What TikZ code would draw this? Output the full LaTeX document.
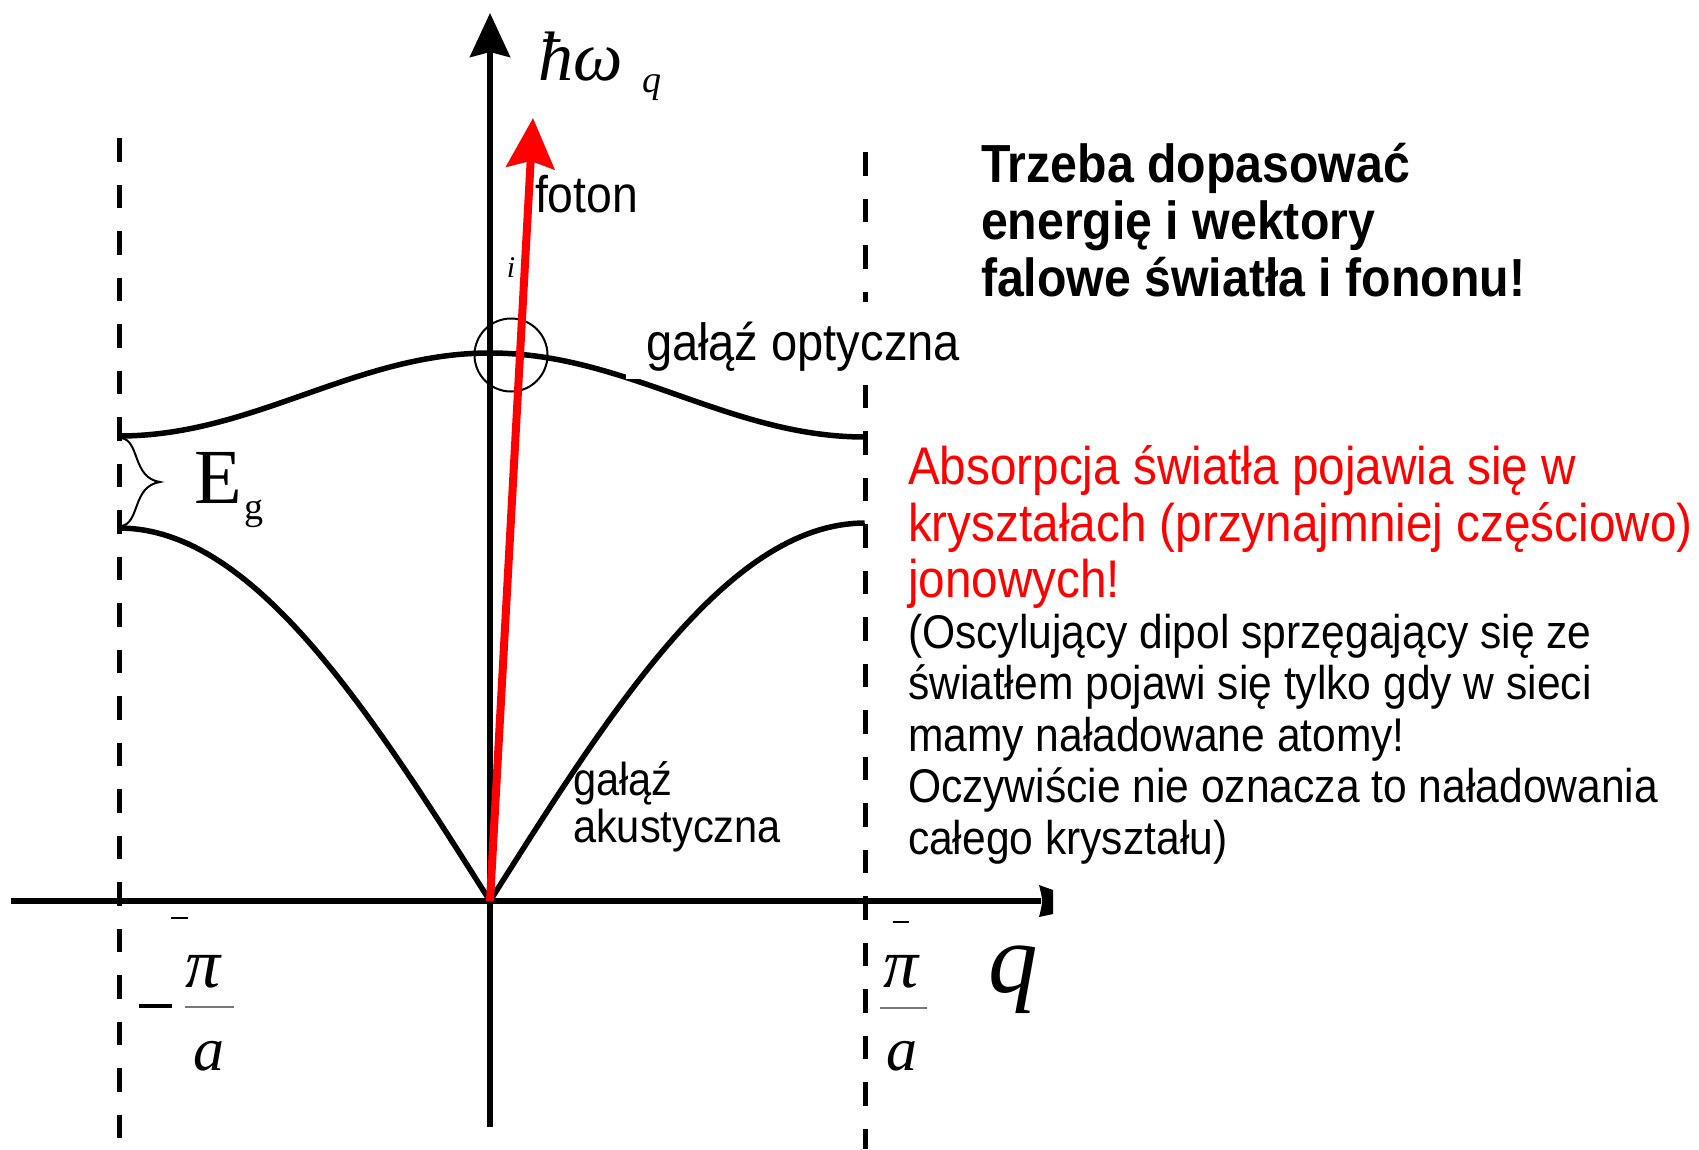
\documentclass[tikz,border=0pt]{standalone}
\usepackage{fontspec}
\setmainfont{Liberation Serif}
\newfontfamily\sansf[FakeStretch=0.9]{Liberation Sans}
\usetikzlibrary{arrows.meta}
\definecolor{pptred}{RGB}{255,0,0}
\definecolor{bargray}{RGB}{120,120,120}
\newcommand\setfs[1]{\fontsize{#1}{#1}\selectfont}
\begin{document}
\begin{tikzpicture}[x=1pt,y=-1pt,
  txt/.style={inner sep=0pt, outer sep=0pt, anchor=base west},
  ctxt/.style={inner sep=0pt, outer sep=0pt, anchor=base},
  curve/.style={line width=5.5pt, line join=round},
  axisline/.style={line width=6pt},
  zone/.style={line width=5pt, dash pattern=on 23.5pt off 23pt},
  thinline/.style={line width=2pt},
]
\useasboundingbox (0,0) rectangle (1699,1149);

% named points
\coordinate (O) at (490,901);
\coordinate (Ytop) at (490,13);
\coordinate (Ybot) at (490,1127);
\coordinate (Xl) at (11,901);
\coordinate (Xr) at (1041,901);
\coordinate (Ftip) at (533,118);
\coordinate (Lz1) at (119,138);
\coordinate (Lz2) at (119,1149);
\coordinate (Rz1) at (865,152);
\coordinate (Rz2) at (865,1149);

% zone boundaries
\draw[zone] (Lz1) -- (Lz2);
\draw[zone] (Rz1) -- (Rz2);

% axes
\draw[axisline, -{Stealth[length=44pt,width=40pt,inset=5pt]}] (Ybot) -- (Ytop);
\draw[axisline] (Xl) -- (Xr);
\fill (1039,885) -- (1053,890) -- (1053,914) -- (1039,917) .. controls (1043,901) .. cycle;

% optical branch
\draw[curve] plot[domain=1:0, samples=60] ({490-371*\x},{353+83*(1-cos(180*\x))/2})
   -- plot[domain=0:1, samples=60] ({490+375*\x},{353+84*(1-cos(180*\x))/2});
% acoustic branch
\draw[curve] plot[domain=1:0, samples=60] ({490-371*\x},{901-373*sin(90*\x)})
   -- plot[domain=0:1, samples=60] ({490+375*\x},{901-378*sin(90*\x)});

% white box behind the optical-branch label
\fill[white] (626,302) rectangle (975,379);

% circle
\draw[thinline] (511,355) circle[radius=36.5];

% brace
\draw[line width=2pt] (121,438) .. controls (140,440) and (132,478) .. (160,482)
   .. controls (132,486) and (140,524) .. (121,526);

% photon arrow
\draw[pptred, line width=8pt, -{Stealth[length=50pt,width=48pt,inset=7pt]}] (O) -- (Ftip);

% axis labels
\node[txt] (hw) at (538,80) {\setfs{70}\itshape ħω};
\node[txt] (hwq) at (642,92) {\setfs{38}\itshape q};
\node[txt] (qlab) at (988,992) {\setfs{99}\itshape q};
\node[ctxt] (ip) at (511,277) {\setfs{30}\itshape i};

% -pi/a
\draw[line width=4pt] (139,1006) -- (172,1006);
\draw[line width=2pt] (171,918) -- (188,918);
\draw[bargray, line width=2pt] (185,1007) -- (234,1007);
\node[ctxt] (piL) at (203,987) {\setfs{70}\itshape π};
\node[ctxt] (aL) at (209,1070) {\setfs{62}\itshape a};
% pi/a
\draw[line width=2pt] (893,922) -- (909,922);
\draw[bargray, line width=2pt] (880,1008) -- (927,1008);
\node[ctxt] (piR) at (901,987) {\setfs{70}\itshape π};
\node[ctxt] (aR) at (902,1070) {\setfs{62}\itshape a};

% E_g
\node[txt] (E) at (194,503) {\setfs{78}E};
\node[txt] (g) at (244,519) {\setfs{38}g};

% sans labels
\node[txt] (foton) at (535,212) {\sansf\setfs{51.5}foton};
\node[txt] (opt) at (646,360) {\sansf\setfs{52.3}gałąź optyczna};
\node[txt] (ak1) at (573,795) {\sansf\setfs{46.2}gałąź};
\node[txt] (ak2) at (573,842) {\sansf\setfs{46.2}akustyczna};

\node[txt] (b1) at (981,182) {\sansf\bfseries\setfs{53.6}Trzeba dopasować};
\node[txt] (b2) at (981,239) {\sansf\bfseries\setfs{53.6}energię i wektory};
\node[txt] (b3) at (981,296) {\sansf\bfseries\setfs{53.6}falowe światła i fononu!};

\node[txt, text=pptred] (r1) at (908,484) {\sansf\setfs{53}Absorpcja światła pojawia się w};
\node[txt, text=pptred] (r2) at (908,541) {\sansf\setfs{53}kryształach (przynajmniej częściowo)};
\node[txt, text=pptred] (r3) at (908,597) {\sansf\setfs{53}jonowych!};

\node[txt] (k1) at (908,648) {\sansf\setfs{47.3}(Oscylujący dipol sprzęgający się ze};
\node[txt] (k2) at (908,699.5) {\sansf\setfs{47.3}światłem pojawi się tylko gdy w sieci};
\node[txt] (k3) at (908,751) {\sansf\setfs{47.3}mamy naładowane atomy!};
\node[txt] (k4) at (908,802.5) {\sansf\setfs{47.3}Oczywiście nie oznacza to naładowania};
\node[txt] (k5) at (908,854) {\sansf\setfs{47.3}całego kryształu)};
\end{tikzpicture}
\end{document}
